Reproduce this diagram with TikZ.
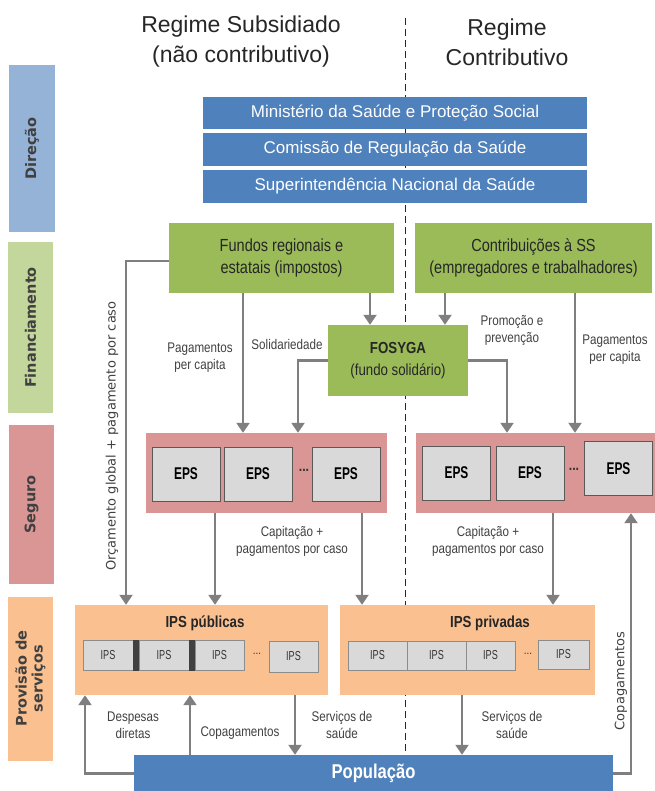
\documentclass[tikz,border=0pt]{standalone}
\usepackage{fontspec}
\setmainfont{Liberation Sans}
\newfontfamily\narrowfont[FakeStretch=0.83]{Liberation Sans}
\newfontfamily\condfont[FakeStretch=0.7]{Liberation Sans}
\newfontfamily\verdfont{DejaVu Sans}
\usetikzlibrary{arrows.meta}

\definecolor{dirblue}{HTML}{4F81BD}
\definecolor{lightblue}{HTML}{95B3D7}
\definecolor{fingreen}{HTML}{9BBB59}
\definecolor{lightgreen}{HTML}{C3D69B}
\definecolor{segred}{HTML}{D99694}
\definecolor{provorange}{HTML}{FAC090}
\definecolor{boxgray}{HTML}{D9D9D9}
\definecolor{linegray}{HTML}{7F7F7F}
\definecolor{textgray}{HTML}{404040}

\begin{document}
\begin{tikzpicture}[x=1pt,y=-1pt,
	arr/.style={draw=linegray, line width=2.2pt, -{Triangle[length=10pt,width=13pt]}},
	lbl/.style={text=textgray, align=center, font=\narrowfont\fontsize{14}{17}\selectfont},
	rotlbl/.style={rotate=90, text=textgray, font=\verdfont\fontsize{13}{15}\selectfont}]
\useasboundingbox (0,0) rectangle (654,791);

% columns for the connectors
\coordinate (divtop) at (405,18);
\coordinate (divbot) at (405,755);
\coordinate (colA) at (126,0);
\coordinate (colB) at (243,0);
\coordinate (colC) at (370,0);
\coordinate (colD) at (445,0);
\coordinate (colE) at (298,0);
\coordinate (colF) at (507,0);
\coordinate (colG) at (575,0);
\coordinate (colH) at (215,0);
\coordinate (colI) at (362,0);
\coordinate (colJ) at (553,0);
\coordinate (colK) at (295,0);
\coordinate (colL) at (462,0);
\coordinate (colM) at (190,0);
\coordinate (colN) at (85,0);
\coordinate (colO) at (631,0);

\draw[black!85, line width=1pt, dash pattern=on 7pt off 4pt] (divtop) -- (divbot);

\begin{scope}[every node/.style={align=center, text=black!85, font=\fontsize{23}{30}\selectfont}]
	\node (subs) at (241,42) {Regime Subsidiado\\(não contributivo)};
	\node (contr) at (507,42) {Regime\\Contributivo};
\end{scope}

% side bars
\begin{scope}[every node/.style={rotate=90, inner sep=0pt, align=center, text=textgray,
              font=\verdfont\bfseries\fontsize{14.5}{16}\selectfont}]
	\node[fill=lightblue, minimum width=167pt, minimum height=46pt] (dirbar) at (32,148.5) {Direção};
	\node[fill=lightgreen, minimum width=171pt, minimum height=45pt] (finbar) at (30.5,327.5) {Financiamento};
	\node[fill=segred, minimum width=159pt, minimum height=45pt] (segbar) at (31.5,504.5) {Seguro};
	\node[fill=provorange, minimum width=164pt, minimum height=45pt] (provbar) at (30.5,678.5) {Provisão de\\serviços};
\end{scope}

% direction
\begin{scope}[every node/.style={fill=dirblue, text=white, minimum width=384pt, inner sep=0pt,
              font=\fontsize{17}{20}\selectfont}]
	\node[minimum height=32pt] (msps) at (395,113) {Ministério da Saúde e Proteção Social};
	\node[minimum height=33pt] (crs) at (395,149.5) {Comissão de Regulação da Saúde};
	\node[minimum height=33pt] (sns) at (395,186.5) {Superintendência Nacional da Saúde};
\end{scope}

% financing
\begin{scope}[every node/.style={fill=fingreen, text=black!85, align=center, inner sep=0pt,
              font=\narrowfont\fontsize{17.5}{22}\selectfont}]
	\node[minimum width=225pt, minimum height=70pt] (fundos) at (281.5,258) {Fundos regionais e\\estatais (impostos)};
	\node[minimum width=237pt, minimum height=70pt] (contrib) at (533.5,258) {Contribuições à SS\\(empregadores e trabalhadores)};
	\node[minimum width=140pt, minimum height=71pt, font=\narrowfont\fontsize{16}{22}\selectfont] (fosyga) at (398,360.5) {\textbf{FOSYGA}\\(fundo solidário)};
\end{scope}

% insurance
\node[fill=segred, inner sep=0pt, minimum width=241pt, minimum height=80pt] (epsL) at (266.5,473) {};
\node[fill=segred, inner sep=0pt, minimum width=240pt, minimum height=80pt] (epsR) at (536,473) {};
\begin{scope}[every node/.style={fill=boxgray, draw=black!65, line width=1pt, inner sep=0pt,
              minimum width=68pt, minimum height=54pt, font=\condfont\bfseries\fontsize{17}{20}\selectfont}]
	\node (eps1) at (186,474) {EPS};
	\node (eps2) at (258,474) {EPS};
	\node (eps3) at (346,474) {EPS};
	\node (eps4) at (456.5,473) {EPS};
	\node (eps5) at (530,473) {EPS};
	\node (eps6) at (618.5,468.5) {EPS};
\end{scope}
\node[font=\narrowfont\bfseries\fontsize{15}{17}\selectfont, text=black!80] (dotsL) at (304,470) {...};
\node[font=\narrowfont\bfseries\fontsize{15}{17}\selectfont, text=black!80] (dotsR) at (574,469) {...};

% providers
\node[fill=provorange, inner sep=0pt, minimum width=253pt, minimum height=90pt] (ipspub) at (201.5,650) {};
\node[fill=provorange, inner sep=0pt, minimum width=255pt, minimum height=90pt] (ipspriv) at (467.5,650) {};
\begin{scope}[every node/.style={text=black!85, font=\narrowfont\bfseries\fontsize{16}{19}\selectfont}]
	\node (ipspubtit) at (205,623) {IPS públicas};
	\node (ipsprivtit) at (490,623) {IPS privadas};
\end{scope}
\begin{scope}[every node/.style={fill=boxgray, draw=black!45, line width=1pt, inner sep=0pt,
              minimum height=30pt, text=black!80, font=\condfont\fontsize{13}{15}\selectfont}]
	\node[minimum width=50pt] (ips1) at (108,655) {IPS};
	\node[minimum width=50pt] (ips2) at (164,655) {IPS};
	\node[minimum width=49pt] (ips3) at (219.5,655) {IPS};
	\node[minimum width=49pt, minimum height=31pt] (ips4) at (293.5,656.5) {IPS};
	\node[minimum width=59pt, minimum height=29pt] (ips5) at (377.5,655.5) {IPS};
	\node[minimum width=59pt, minimum height=29pt] (ips6) at (436.5,655.5) {IPS};
	\node[minimum width=49pt, minimum height=29pt] (ips7) at (490.5,655.5) {IPS};
	\node[minimum width=51pt, minimum height=29pt] (ips8) at (563.5,654.5) {IPS};
\end{scope}
\node[fill=black!75, inner sep=0pt, minimum width=6pt, minimum height=31pt] (sep1) at (136,655) {};
\node[fill=black!75, inner sep=0pt, minimum width=6pt, minimum height=31pt] (sep2) at (192,655) {};
\node[font=\narrowfont\fontsize{12}{14}\selectfont, text=black!80] (dotsA) at (257,654) {...};
\node[font=\narrowfont\fontsize{12}{14}\selectfont, text=black!80] (dotsB) at (528,654) {...};

% population
\node[fill=dirblue, text=white, inner sep=0pt, minimum width=479pt, minimum height=37pt,
      font=\narrowfont\bfseries\fontsize{20}{24}\selectfont] (pop) at (373.5,773.5) {População};

% flows
\draw[arr] ([yshift=-3pt]fundos.west) -| (colA |- ipspub.north);
\draw[arr] (fundos.south -| colB) -- (epsL.north -| colB);
\draw[arr] (fundos.south -| colC) -- (fosyga.north -| colC);
\draw[arr] (contrib.south -| colD) -- (fosyga.north -| colD);
\draw[arr] (fosyga.west) -| (colE |- epsL.north);
\draw[arr] (fosyga.east) -| (colF |- epsR.north);
\draw[arr] (contrib.south -| colG) -- (epsR.north -| colG);
\draw[arr] (epsL.south -| colH) -- (ipspub.north -| colH);
\draw[arr] (epsL.south -| colI) -- (ipspriv.north -| colI);
\draw[arr] (epsR.south -| colJ) -- (ipspriv.north -| colJ);
\draw[arr] (ipspub.south -| colK) -- (pop.north -| colK);
\draw[arr] (ipspriv.south -| colL) -- (pop.north -| colL);
\draw[arr] (pop.north -| colM) -- (ipspub.south -| colM);
\draw[arr] (pop.west) -| (colN |- ipspub.south);
\draw[arr] (pop.east) -| (colO |- epsR.south);

% labels
\node[rotlbl] (orcam) at (112,436) {Orçamento global + pagamento por caso};
\node[rotlbl] (copagR) at (621,681) {Copagamentos};
\node[lbl] (pcapL) at (200,358) {Pagamentos\\per capita};
\node[lbl] (solid) at (287,344) {Solidariedade};
\node[lbl] (promo) at (512,330) {Promoção e\\prevenção};
\node[lbl] (pcapR) at (615,350) {Pagamentos\\per capita};
\node[lbl] (capL) at (292,541) {Capitação +\\pagamentos por caso};
\node[lbl] (capR) at (488,541) {Capitação +\\pagamentos por caso};
\node[lbl] (desp) at (133,725) {Despesas\\diretas};
\node[lbl] (copagL) at (240,733) {Copagamentos};
\node[lbl] (servL) at (342,725) {Serviços de\\saúde};
\node[lbl] (servR) at (512,725) {Serviços de\\saúde};
\end{tikzpicture}
\end{document}
